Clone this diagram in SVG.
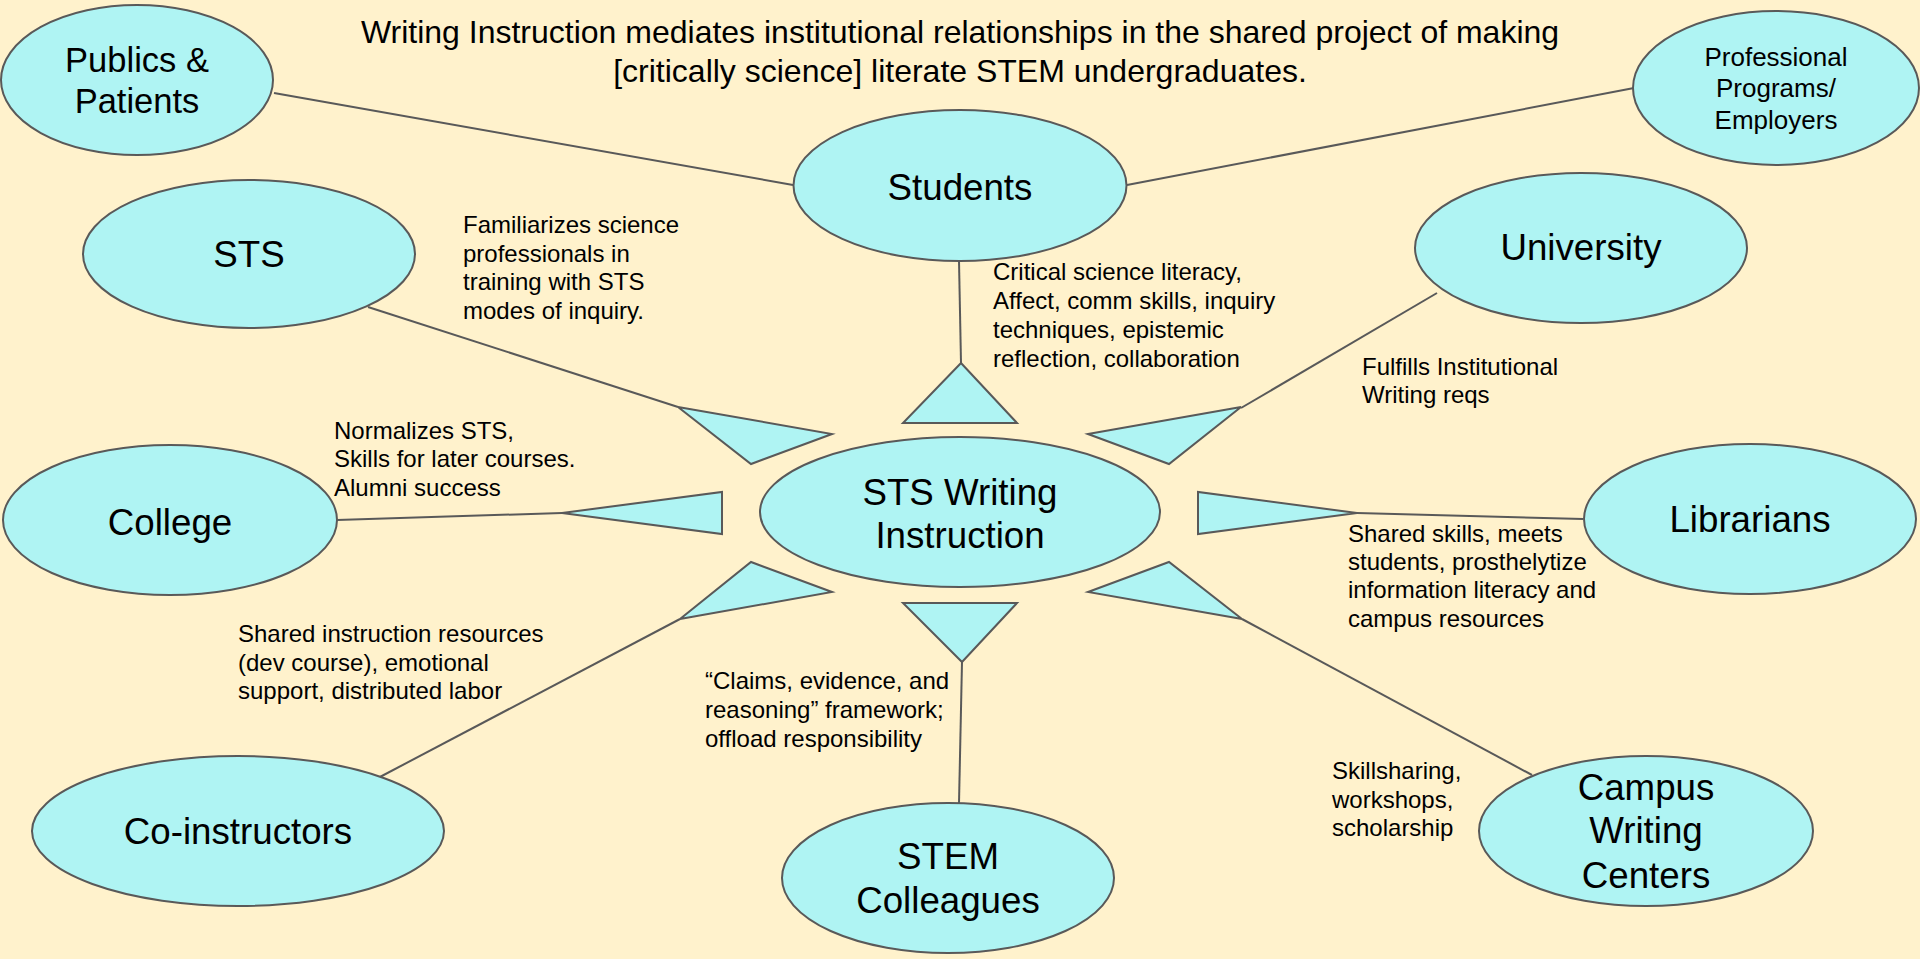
<svg xmlns="http://www.w3.org/2000/svg" width="1920" height="959" viewBox="0 0 1920 959">
<style>
.node ellipse{fill:#aff4f3;stroke:#595959;stroke-width:2}
.tri{fill:#aff4f3;stroke:#595959;stroke-width:2;stroke-linejoin:miter}
.conn line{stroke:#595959;stroke-width:2}
text{font-family:"Liberation Sans",Arial,sans-serif;fill:#000}
.big{font-size:36.7px;text-anchor:middle}
.mid{font-size:26px;text-anchor:middle}
.lbl{font-size:24px}
.title{font-size:32px;text-anchor:middle}
</style>
<rect width="1920" height="959" fill="#fff2cc"/>
<g id="title">
<text class="title" x="960" y="43">Writing Instruction mediates institutional relationships in the shared project of making</text>
<text class="title" x="960" y="82">[critically science] literate STEM undergraduates.</text>
</g>
<g id="connectors" class="conn">
<line x1="274" y1="93" x2="793" y2="185"/>
<line x1="1127" y1="185" x2="1634" y2="88"/>
<line x1="368" y1="307" x2="678" y2="407"/>
<line x1="959" y1="261" x2="961" y2="363"/>
<line x1="1437" y1="293" x2="1241" y2="408"/>
<line x1="337" y1="520" x2="562" y2="513"/>
<line x1="1357" y1="513" x2="1583" y2="519"/>
<line x1="378" y1="778" x2="680" y2="619"/>
<line x1="962" y1="662" x2="959" y2="803"/>
<line x1="1242" y1="619" x2="1532" y2="775"/>
<polygon class="tri" points="678,407 832,434 751,464"/>
<polygon class="tri" points="903,423 1017,423 961,363"/>
<polygon class="tri" points="1088,434 1241,407 1169,464"/>
<polygon class="tri" points="562,513 722,492 722,534"/>
<polygon class="tri" points="1198,492 1198,534 1357,513"/>
<polygon class="tri" points="680,619 751,562 832,592"/>
<polygon class="tri" points="903,603 1017,603 962,662"/>
<polygon class="tri" points="1088,592 1169,562 1242,619"/>
</g>
<g id="publics" class="node">
<ellipse cx="137" cy="80" rx="136" ry="75"/>
<text class="big" style="font-size:34.5px" x="137" y="72">Publics &amp;</text>
<text class="big" style="font-size:34.5px" x="137" y="113">Patients</text>
</g>
<g id="professional" class="node">
<ellipse cx="1776" cy="88" rx="143" ry="77"/>
<text class="mid" x="1776" y="66">Professional</text>
<text class="mid" x="1776" y="97">Programs/</text>
<text class="mid" x="1776" y="129">Employers</text>
</g>
<g id="students" class="node">
<ellipse cx="960" cy="185.5" rx="166.5" ry="75.5"/>
<text class="big" x="960" y="200">Students</text>
</g>
<g id="sts" class="node">
<ellipse cx="249" cy="254" rx="166" ry="74"/>
<text class="big" x="249" y="267">STS</text>
</g>
<g id="university" class="node">
<ellipse cx="1581" cy="248" rx="166" ry="75"/>
<text class="big" x="1581" y="260">University</text>
</g>
<g id="college" class="node">
<ellipse cx="170" cy="520" rx="167" ry="75"/>
<text class="big" x="170" y="535">College</text>
</g>
<g id="center" class="node">
<ellipse cx="960" cy="512" rx="200" ry="75"/>
<text class="big" x="960" y="505">STS Writing</text>
<text class="big" x="960" y="548">Instruction</text>
</g>
<g id="librarians" class="node">
<ellipse cx="1750" cy="519" rx="166" ry="75"/>
<text class="big" x="1750" y="532">Librarians</text>
</g>
<g id="coinstructors" class="node">
<ellipse cx="238" cy="831" rx="206" ry="75"/>
<text class="big" x="238" y="844">Co-instructors</text>
</g>
<g id="stem" class="node">
<ellipse cx="948" cy="878" rx="166" ry="75"/>
<text class="big" x="948" y="869">STEM</text>
<text class="big" x="948" y="913">Colleagues</text>
</g>
<g id="campus" class="node">
<ellipse cx="1646" cy="831" rx="167" ry="75"/>
<text class="big" x="1646" y="800">Campus</text>
<text class="big" x="1646" y="843">Writing</text>
<text class="big" x="1646" y="888">Centers</text>
</g>
<g id="labels" class="lbl">
<text x="463" y="233">Familiarizes science</text>
<text x="463" y="262">professionals in</text>
<text x="463" y="290">training with STS</text>
<text x="463" y="319">modes of inquiry.</text>
<text x="993" y="280">Critical science literacy,</text>
<text x="993" y="309">Affect, comm skills, inquiry</text>
<text x="993" y="338">techniques, epistemic</text>
<text x="993" y="367">reflection, collaboration</text>
<text x="1362" y="375">Fulfills Institutional</text>
<text x="1362" y="403">Writing reqs</text>
<text x="334" y="439">Normalizes STS,</text>
<text x="334" y="467">Skills for later courses.</text>
<text x="334" y="496">Alumni success</text>
<text x="1348" y="542">Shared skills, meets</text>
<text x="1348" y="570">students, prosthelytize</text>
<text x="1348" y="598">information literacy and</text>
<text x="1348" y="627">campus resources</text>
<text x="238" y="642">Shared instruction resources</text>
<text x="238" y="671">(dev course), emotional</text>
<text x="238" y="699">support, distributed labor</text>
<text x="705" y="689">“Claims, evidence, and</text>
<text x="705" y="718">reasoning” framework;</text>
<text x="705" y="747">offload responsibility</text>
<text x="1332" y="779">Skillsharing,</text>
<text x="1332" y="808">workshops,</text>
<text x="1332" y="836">scholarship</text>
</g>
</svg>
